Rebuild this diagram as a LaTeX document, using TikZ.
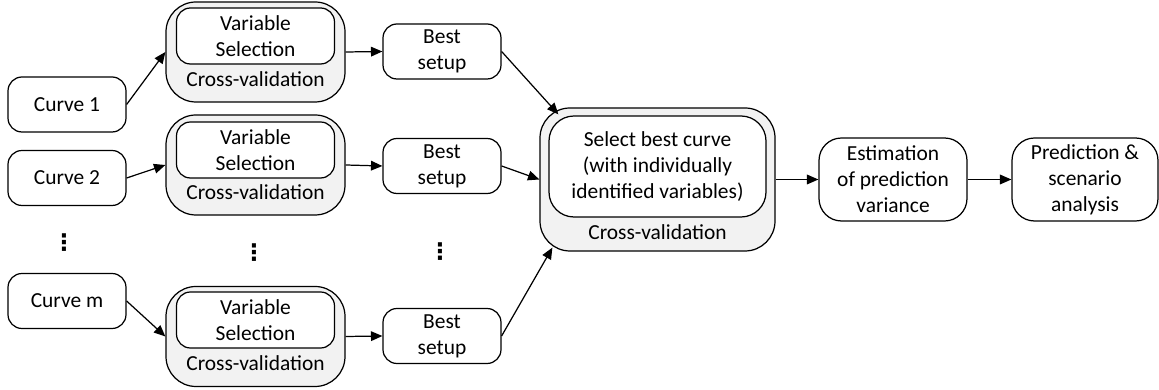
\documentclass[tikz,border=0pt]{standalone}
\usepackage{fontspec}
\setmainfont{Carlito}
\newfontfamily\dotsfont{DejaVu Sans}
\usetikzlibrary{arrows.meta, calc}

\definecolor{cvgray}{RGB}{242,242,242}

\tikzset{
    every node/.style={font=\fontsize{12.2}{14.8}\selectfont},
    box/.style={draw, line width=0.7pt, fill=white, rounded corners=0.28cm, align=center,
        minimum width=2.36cm, minimum height=1.1cm, inner sep=1pt},
    cvbox/.style={draw, line width=0.7pt, fill=cvgray, rounded corners=0.6cm,
        minimum width=3.58cm, minimum height=2cm},
    selbox/.style={box, minimum width=3.16cm, minimum height=1.12cm},
    vdotsnode/.style={font=\dotsfont\bfseries\fontsize{13}{13}\selectfont, inner sep=0pt},
    flow/.style={->, >={Triangle[length=6.5pt, width=5.5pt]}, line width=0.7pt}
}

\begin{document}
\begin{tikzpicture}
    \useasboundingbox (0,0) rectangle (23.18,7.8);

    % input curves
    \node [box] (c1) at (1.34,5.71) {Curve 1};
    \node [box] (c2) at (1.34,4.24) {Curve 2};
    \node [vdotsnode] (cdots) at (1.28,2.94) {⋮};
    \node [box] (cm) at (1.34,1.78) {Curve m};

    % variable selection inside cross-validation
    \node [cvbox] (cv1) at (5.11,6.76) {};
    \node [selbox] (vs1) at (5.11,7.08) {Variable\\Selection};
    \node (cvt1) at (5.11,6.22) {Cross-validation};

    \node [cvbox] (cv2) at (5.11,4.50) {};
    \node [selbox] (vs2) at (5.11,4.80) {Variable\\Selection};
    \node (cvt2) at (5.11,3.96) {Cross-validation};

    \node [vdotsnode] (vsdots) at (5.08,2.74) {⋮};

    \node [cvbox] (cvm) at (5.11,1.07) {};
    \node [selbox] (vsm) at (5.11,1.40) {Variable\\Selection};
    \node (cvtm) at (5.11,0.54) {Cross-validation};

    % best setups
    \node [box] (b1) at (8.84,6.77) {Best\\setup};
    \node [box] (b2) at (8.84,4.48) {Best\\setup};
    \node [vdotsnode] (bdots) at (8.80,2.76) {⋮};
    \node [box] (bm) at (8.84,1.08) {Best\\setup};

    % selection of the best curve
    \node [cvbox, minimum width=4.7cm, minimum height=2.86cm] (big) at (13.15,4.21) {};
    \node [box, rounded corners=0.5cm, minimum width=4.34cm, minimum height=2.02cm] (sel) at (13.15,4.47)
        {Select best curve\\(with individually\\identified variables)};
    \node (cvtb) at (13.15,3.16) {Cross-validation};

    \node [box, rounded corners=0.45cm, minimum width=2.96cm, minimum height=1.66cm] (est) at (17.86,4.21)
        {Estimation\\of prediction\\variance};
    \node [box, rounded corners=0.45cm, minimum width=2.92cm, minimum height=1.66cm] (pred) at (21.70,4.21)
        {Prediction \&\\scenario\\analysis};

    \coordinate (bigin1) at ($(big.north west)+(0.38,-0.14)$);
    \coordinate (bigin3) at ($(big.south west)+(0.26,0.08)$);

    \draw [flow] (c1.east) -- (cv1.west);
    \draw [flow] (c2.east) -- (cv2.west);
    \draw [flow] (cm.east) -- (cvm.west);

    \draw [flow] (cv1.east) -- (b1.west);
    \draw [flow] (cv2.east) -- (b2.west);
    \draw [flow] (cvm.east) -- (bm.west);

    \draw [flow] (b1.east) -- (bigin1);
    \draw [flow] (b2.east) -- (big.west);
    \draw [flow] (bm.east) -- (bigin3);

    \draw [flow] (big.east) -- (est.west);
    \draw [flow] (est.east) -- (pred.west);
\end{tikzpicture}
\end{document}
